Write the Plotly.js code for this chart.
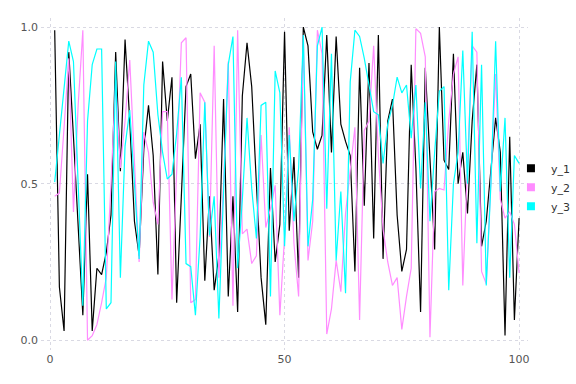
<!DOCTYPE html>
<html>
<head>
<meta charset="utf-8">
<script src="https://cdn.plot.ly/plotly-3.0.1.min.js"></script>
<style>html,body{margin:0;padding:0;background:#fff;}#chart{width:576px;height:384px;}</style>
</head>
<body>
<div id="chart"></div>
<script>
const seriesNames = ["y_1", "y_2", "y_3"];
const seriesColors = ["#000000", "#ff8cff", "#00ffff"];

const y1 = [0.99,0.17,0.03,0.92,0.65,0.38,0.08,0.53,0.03,0.23,
0.21,0.28,0.40,0.92,0.54,0.96,0.70,0.38,0.27,0.61,
0.75,0.59,0.21,0.89,0.70,0.84,0.12,0.46,0.81,0.85,
0.58,0.69,0.19,0.46,0.16,0.27,0.77,0.14,0.46,0.09,
0.78,0.95,0.81,0.50,0.20,0.05,0.55,0.25,0.37,0.985,
0.35,0.585,0.20,1.0,0.94,0.665,0.61,0.655,0.975,0.60,
0.97,0.69,0.635,0.59,0.22,0.87,0.43,0.885,0.325,0.975,
0.26,0.70,0.77,0.40,0.22,0.29,0.88,0.55,0.09,0.87,
0.59,0.29,1.0,0.575,0.545,0.915,0.50,0.60,0.405,0.70,
0.88,0.30,0.38,0.55,0.71,0.60,0.015,0.65,0.065,0.39];

const y2 = [0.46,0.47,0.68,0.90,0.41,0.75,0.99,0.0,0.015,0.05,
0.12,0.20,0.50,0.83,0.55,0.70,0.895,0.55,0.25,0.665,
0.60,0.44,0.37,0.73,0.73,0.13,0.55,0.95,0.966,0.12,
0.13,0.79,0.76,0.33,0.94,0.20,0.50,0.89,0.11,0.99,
0.34,0.355,0.245,0.27,0.655,0.36,0.42,0.495,0.08,0.33,
0.68,0.31,0.14,0.975,0.255,0.38,0.99,0.915,0.02,0.10,
0.255,0.155,0.405,0.55,0.68,0.065,0.67,0.70,0.94,0.59,
0.355,0.25,0.175,0.20,0.035,0.14,0.23,0.995,0.98,0.905,
0.01,0.475,0.485,0.48,0.70,0.85,0.905,0.175,0.55,0.94,
0.92,0.22,0.18,0.50,0.85,0.45,0.39,0.41,0.37,0.215];

const y3 = [0.505,0.65,0.80,0.955,0.89,0.50,0.11,0.70,0.88,0.93,
0.93,0.10,0.12,0.89,0.20,0.62,0.735,0.50,0.26,0.815,
0.955,0.92,0.72,0.60,0.515,0.53,0.66,0.84,0.245,0.235,
0.08,0.33,0.76,0.335,0.46,0.07,0.50,0.88,0.97,0.23,
0.45,0.71,0.485,0.325,0.75,0.76,0.14,0.86,0.79,0.30,
0.655,0.38,0.55,0.975,0.30,0.45,0.94,1.0,0.42,0.915,
0.255,0.475,0.15,0.825,0.99,0.97,0.90,0.81,0.73,0.72,
0.565,0.69,0.75,0.84,0.79,0.815,0.645,0.815,0.485,0.76,
0.38,0.60,0.795,0.81,0.16,0.50,0.60,0.925,0.50,0.985,
0.31,0.88,0.175,0.50,0.955,0.475,0.71,0.20,0.59,0.565];

const xTickVals = [0, 50, 100];
const xTickText = ["0", "50", "100"];
const yTickVals = [0, 0.5, 1.0];
const yTickText = ["0.0", "0.5", "1.0"];

const allY = [y1, y2, y3];
const traces = [];
allY.forEach((ys, i) => {
  traces.push({
    type: "scatter", mode: "lines", name: seriesNames[i],
    y: ys, x0: 1, dx: 1,
    line: {color: seriesColors[i], width: 1.2},
    showlegend: false, hoverinfo: "skip"
  });
});
allY.forEach((ys, i) => {
  traces.push({
    type: "scatter", mode: "markers", name: seriesNames[i],
    x: [null], y: [null],
    marker: {symbol: "square", size: 8, color: seriesColors[i]},
    showlegend: true
  });
});

const gridColor = "#d9d9e3";
const layout = {
  width: 576, height: 384,
  margin: {l: 41, r: 48, t: 18, b: 34, pad: 0, autoexpand: false},
  paper_bgcolor: "#ffffff", plot_bgcolor: "#ffffff",
  font: {family: "DejaVu Sans, sans-serif", size: 11, color: "#555555"},
  showlegend: true,
  legend: {
    x: 0.965, xanchor: "left", y: 0.49, yanchor: "middle",
    bgcolor: "rgba(255,255,255,0)", borderwidth: 0,
    font: {family: "DejaVu Sans, sans-serif", size: 11, color: "#333333"},
    itemwidth: 30, tracegroupgap: 0
  },
  xaxis: {
    range: [-1.92, 101.9], tickmode: "array", tickvals: xTickVals, ticktext: xTickText,
    showgrid: true, gridcolor: gridColor, griddash: "dot", gridwidth: 1,
    zeroline: false, showline: false, ticks: "", ticklabelstandoff: 1,
    tickfont: {size: 11, color: "#555555"}
  },
  yaxis: {
    range: [-0.031, 1.029], tickmode: "array", tickvals: yTickVals, ticktext: yTickText,
    showgrid: true, gridcolor: gridColor, griddash: "dot", gridwidth: 1,
    zeroline: false, showline: false, ticks: "", ticklabelstandoff: 2,
    tickfont: {size: 11, color: "#555555"}
  }
};

Plotly.newPlot("chart", traces, layout, {staticPlot: true, displayModeBar: false});
</script>
</body>
</html>
